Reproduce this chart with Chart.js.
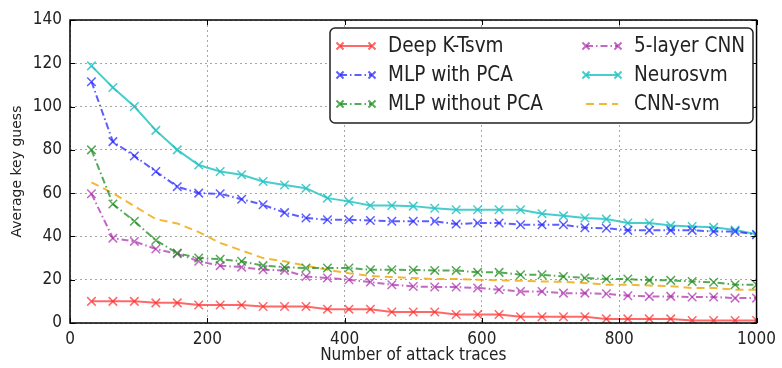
<!DOCTYPE html>
<html>
<head>
<meta charset="utf-8">
<script src="https://cdn.jsdelivr.net/npm/chart.js@4/dist/chart.umd.min.js"></script>
<style>
  html,body{margin:0;padding:0;background:#fff;}
  #wrap{width:782px;height:368px;}
</style>
</head>
<body>
<div id="wrap"><canvas id="c" width="782" height="368"></canvas></div>
<script>
/* data */
const traces = [31.25,62.5,93.75,125,156.25,187.5,218.75,250,281.25,312.5,343.75,375,406.25,437.5,468.75,500,
                531.25,562.5,593.75,625,656.25,687.5,718.75,750,781.25,812.5,843.75,875,906.25,937.5,968.75,1000];

const deepKTsvm = [10,10,10,9.3,9.3,8.3,8.3,8.3,7.6,7.6,7.6,6.4,6.4,6.4,5.1,5.1,
                   5.1,3.9,3.9,3.9,2.9,2.9,2.9,2.9,1.9,1.9,1.9,1.9,1.2,1.2,1.2,1.2];
const mlpPCA    = [111.5,83.8,77.2,70,63,60,59.7,57.2,54.6,51,48.5,47.7,47.7,47.4,47,47,
                   47,45.7,46.2,46.2,45.4,45.4,45.4,44,43.8,42.8,42.8,42.8,42.8,42.3,42.3,40.8];
const mlpNoPCA  = [80,55,47,38.2,32.3,30,29.5,28.5,26.5,25.8,25.4,25.4,25.4,24.6,24.6,24.5,
                   24.3,24.3,23.4,23.4,22.3,22.3,21.5,20.8,20.3,20.3,19.7,19.7,19.2,18.8,17.7,17.7];
const cnn5      = [59.7,39.2,37.7,34.2,32,28.5,26.5,25.8,24.6,24.3,21.5,20.8,20,18.9,17.7,16.9,
                   16.6,16.6,16.2,15.4,14.6,14.6,13.8,13.8,13.5,12.6,12.3,12.3,12,12,11.5,11.5];
const neurosvm  = [118.8,108.8,100,89,80,73,70,68.5,65.4,63.8,62.3,57.7,56.2,54.3,54.3,54,
                   53,52.3,52.3,52.3,52.3,50.5,49.5,48.5,48,46.2,46.2,45,44.6,44.2,43,41];
const cnnSvm    = [65,60,54,48,46,42,37,33.5,30,28.5,26.5,24.6,23,21.8,21.2,20.8,
                   20.3,20.3,20,19.7,19.5,19.2,19,18.5,17.7,17.7,17.3,17,16.2,16.2,15.4,15.4];

const xTicks = [0,200,400,600,800,1000];
const yTicks = [0,20,40,60,80,100,120,140];

const pts = arr => arr.map((v,i)=>({x:traces[i], y:v}));
const DASHDOT = [7,3,1.5,3];
const COND = '"DejaVu Sans Condensed", "DejaVu Sans"';

function series(label, arr, color, dash, marker){
  return {
    label, data: pts(arr),
    borderColor: color, backgroundColor: color,
    borderWidth: 2, borderDash: dash,
    pointStyle: 'crossRot', pointRadius: marker ? 6 : 0,
    pointBorderWidth: 1.5, pointBorderColor: color,
    tension: 0, fill: false
  };
}

/* matplotlib style frame + inward ticks */
const framePlugin = {
  id:'frame',
  afterDraw(chart){
    const {ctx, chartArea:a, scales} = chart;
    ctx.save();
    ctx.strokeStyle = '#000';
    ctx.lineWidth = 1.5;
    ctx.setLineDash([]);
    ctx.strokeRect(a.left, a.top, a.right-a.left, a.bottom-a.top);
    ctx.lineWidth = 1;
    xTicks.forEach(v=>{
      const x = Math.round(scales.x.getPixelForValue(v))+0.5;
      ctx.beginPath();
      ctx.moveTo(x,a.bottom); ctx.lineTo(x,a.bottom-5);
      ctx.moveTo(x,a.top); ctx.lineTo(x,a.top+5);
      ctx.stroke();
    });
    yTicks.forEach(v=>{
      const y = Math.round(scales.y.getPixelForValue(v))+0.5;
      ctx.beginPath();
      ctx.moveTo(a.left,y); ctx.lineTo(a.left+5,y);
      ctx.moveTo(a.right,y); ctx.lineTo(a.right-5,y);
      ctx.stroke();
    });
    ctx.restore();
  }
};

/* two column legend box, upper right */
const legendPlugin = {
  id:'boxLegend',
  afterDraw(chart){
    const ctx = chart.ctx;
    const ds = chart.data.datasets;
    const box = {x:330, y:28, w:423, h:95};
    ctx.save();
    ctx.fillStyle = '#fff';
    ctx.strokeStyle = '#222';
    ctx.lineWidth = 1.5;
    ctx.beginPath();
    ctx.roundRect(box.x, box.y, box.w, box.h, 5);
    ctx.fill(); ctx.stroke();
    const cols = [{x0:340, x1:372, tx:388}, {x0:586, x1:618, tx:634}];
    const rows = [46, 75, 104];
    ctx.font = '20.5px ' + COND;
    ctx.textBaseline = 'middle';
    ds.forEach((d,i)=>{
      const c = cols[Math.floor(i/3)], y = rows[i%3];
      ctx.strokeStyle = d.borderColor;
      ctx.lineWidth = d.borderWidth;
      ctx.setLineDash(d.borderDash || []);
      ctx.beginPath(); ctx.moveTo(c.x0,y); ctx.lineTo(c.x1,y); ctx.stroke();
      ctx.setLineDash([]);
      if (d.pointRadius > 0){
        [c.x0, c.x1].forEach(px=>{
          Chart.helpers.drawPoint(ctx, {pointStyle:'crossRot', radius:5, borderWidth:1.5}, px, y);
        });
      }
      ctx.fillStyle = '#222';
      ctx.fillText(d.label, c.tx, y+1);
    });
    ctx.restore();
  }
};

new Chart(document.getElementById('c'), {
  type:'line',
  data:{ datasets:[
    series('Deep K-Tsvm', deepKTsvm, 'rgba(255,40,40,0.7)', [], true),
    series('MLP with PCA', mlpPCA, 'rgba(40,40,255,0.75)', DASHDOT, true),
    series('MLP without PCA', mlpNoPCA, 'rgba(30,140,30,0.75)', DASHDOT, true),
    series('5-layer CNN', cnn5, 'rgba(170,40,170,0.7)', DASHDOT, true),
    series('Neurosvm', neurosvm, 'rgba(40,195,195,0.85)', [], true),
    series('CNN-svm', cnnSvm, 'rgba(240,170,20,0.85)', [8,5], false)
  ]},
  options:{
    responsive:false, animation:false,
    layout:{ padding:{ left:0, right:17, top:20, bottom:0 } },
    plugins:{ legend:{ display:false }, tooltip:{ enabled:false } },
    scales:{
      x:{
        type:'linear', min:0, max:1000,
        afterFit: s => { s.height = 45; },
        afterBuildTicks: s => { s.ticks = xTicks.map(v=>({value:v})); },
        grid:{ color:'rgba(0,0,0,0.35)', lineWidth:1, drawTicks:false },
        border:{ display:false, dash:[2,3] },
        ticks:{ color:'#222', padding:6, maxRotation:0, callback: v => String(v), font:{ family:COND, size:17 } },
        title:{ display:true, text:'Number of attack traces', color:'#222', padding:{top:0,bottom:2},
                font:{ family:COND, size:17 } }
      },
      y:{
        min:0, max:140,
        afterFit: s => { s.width = 70; },
        afterBuildTicks: s => { s.ticks = yTicks.map(v=>({value:v})); },
        grid:{ color:'rgba(0,0,0,0.35)', lineWidth:1, drawTicks:false },
        border:{ display:false, dash:[2,3] },
        ticks:{ color:'#222', padding:8, callback: v => String(v), font:{ family:COND, size:17 } },
        title:{ display:true, text:'Average key guess', color:'#222', padding:{top:9,bottom:0},
                font:{ family:'"DejaVu Sans"', size:14 } }
      }
    }
  },
  plugins:[framePlugin, legendPlugin]
});
</script>
</body>
</html>
